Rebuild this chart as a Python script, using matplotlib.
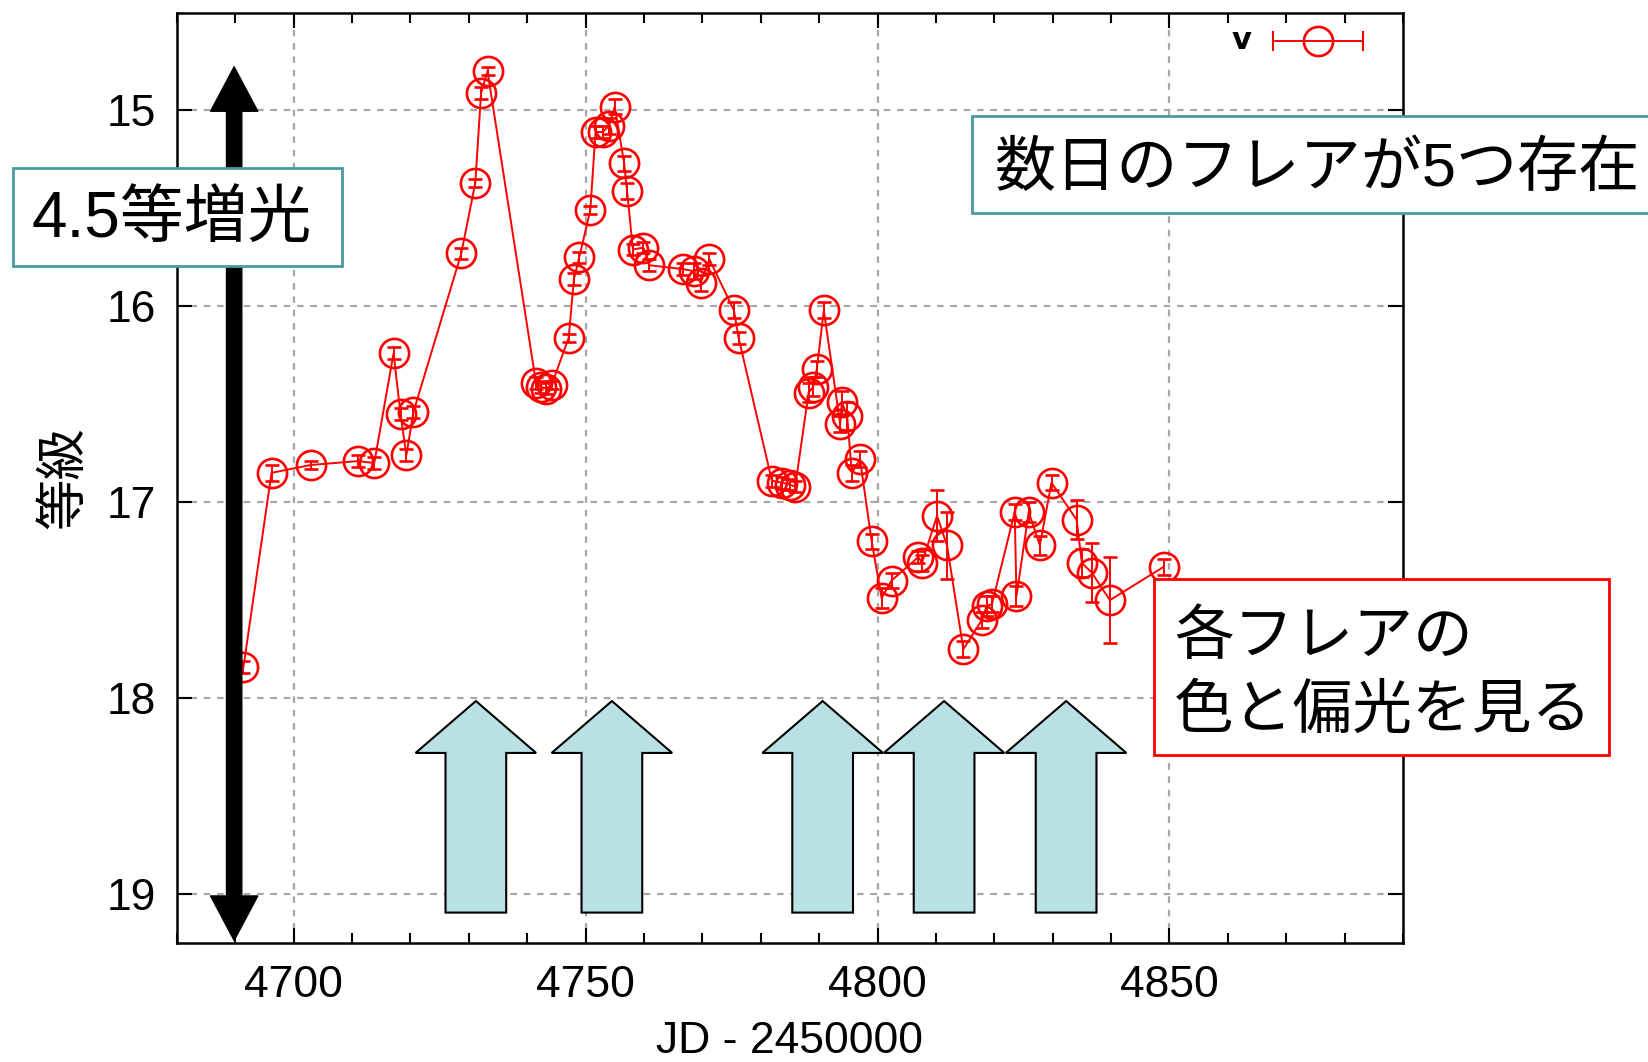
import numpy as np
import matplotlib
matplotlib.use('Agg')
import matplotlib.pyplot as plt
from matplotlib.patches import Rectangle, FancyArrow
from matplotlib.ticker import MultipleLocator

plt.rcParams['font.family'] = ['Liberation Sans', 'Noto Sans CJK JP', 'DejaVu Sans']

# V band light curve (JD - 2450000, magnitude, error)
jd = [4691.4, 4696.2, 4702.9, 4711.0, 4713.8, 4717.1, 4718.3, 4719.3, 4720.5,
      4728.7, 4731.1, 4732.1, 4733.2, 4741.5, 4742.3, 4743.2, 4744.2, 4747.1,
      4748.0, 4748.9, 4750.8, 4751.7, 4752.9, 4754.0, 4755.0, 4756.6, 4757.1,
      4758.1, 4759.9, 4760.9, 4766.7, 4768.5, 4769.7, 4771.2, 4775.4, 4776.2,
      4781.9, 4783.6, 4785.0, 4785.9, 4788.2, 4789.0, 4789.6, 4790.8, 4793.6,
      4793.9, 4794.8, 4795.6, 4797.0, 4799.0, 4800.7, 4802.4, 4807.0, 4807.6,
      4810.2, 4811.9, 4814.7, 4817.9, 4818.7, 4819.6, 4823.5, 4823.8, 4825.9,
      4827.8, 4829.8, 4834.1, 4835.0, 4836.7, 4839.8, 4849.0]
mag = [17.84, 16.85, 16.81, 16.79, 16.80, 16.24, 16.55, 16.76, 16.54,
       15.73, 15.37, 14.91, 14.80, 16.39, 16.41, 16.42, 16.40, 16.16,
       15.86, 15.75, 15.51, 15.11, 15.11, 15.08, 14.98, 15.27, 15.41,
       15.71, 15.70, 15.79, 15.81, 15.82, 15.88, 15.76, 16.02, 16.16,
       16.89, 16.90, 16.91, 16.92, 16.44, 16.41, 16.32, 16.02, 16.60,
       16.49, 16.56, 16.85, 16.78, 17.20, 17.49, 17.40, 17.28, 17.31,
       17.07, 17.22, 17.75, 17.60, 17.53, 17.52, 17.05, 17.48, 17.05,
       17.22, 16.90, 17.09, 17.31, 17.36, 17.50, 17.33]
err = [0.03, 0.04, 0.02, 0.03, 0.03, 0.03, 0.03, 0.03, 0.03,
       0.03, 0.02, 0.03, 0.02, 0.03, 0.03, 0.03, 0.02, 0.02,
       0.03, 0.03, 0.02, 0.03, 0.03, 0.04, 0.04, 0.04, 0.04,
       0.03, 0.03, 0.03, 0.03, 0.04, 0.04, 0.03, 0.04, 0.03,
       0.03, 0.03, 0.03, 0.03, 0.05, 0.05, 0.04, 0.04, 0.04,
       0.06, 0.07, 0.04, 0.04, 0.04, 0.05, 0.04, 0.03, 0.04,
       0.13, 0.17, 0.04, 0.04, 0.05, 0.04, 0.04, 0.05, 0.05,
       0.05, 0.04, 0.10, 0.07, 0.15, 0.22, 0.04]

flare_days = [4731.2, 4754.5, 4790.6, 4811.4, 4832.3]

red = '#ff0000'
teal = '#4a9a9e'

fig = plt.figure(figsize=(16.49, 10.62), dpi=100)
ax = fig.add_axes([0.1073, 0.1121, 0.7435, 0.8761])

ax.errorbar(jd, mag, yerr=err, fmt='-o', color=red, lw=1.4, ms=21,
            mfc='none', mec=red, mew=1.9, elinewidth=1.4, capsize=5,
            capthick=1.4, zorder=3)

ax.set_xlim(4680, 4890)
ax.set_ylim(19.25, 14.5)
ax.set_xticks([4700, 4750, 4800, 4850])
ax.xaxis.set_minor_locator(MultipleLocator(10))
ax.set_yticks([15, 16, 17, 18, 19])
ax.tick_params(which='both', direction='in', top=True, right=True, width=1.5)
ax.tick_params(which='major', length=11, labelsize=32)
ax.tick_params(which='minor', length=7)
ax.tick_params(axis='x', pad=16)
ax.tick_params(axis='y', pad=15)
ax.grid(True, which='major', color='#a8a8a8', lw=1.6, ls=(0, (3, 3)))
for s in ax.spines.values():
    s.set_linewidth(1.8)

ax.set_xlabel('JD - 2450000', fontsize=32, labelpad=11)
ax.set_ylabel('等級', fontsize=37)
ax.yaxis.set_label_coords(-0.0914, 0.5)
ax.yaxis.label.set_verticalalignment('center')

# flare arrows
for d in flare_days:
    ax.add_patch(FancyArrow(d, 19.095, 0, 18.015 - 19.095, width=10.4,
                            head_width=20.65, head_length=0.265,
                            length_includes_head=True, fc='#b9e0e3',
                            ec='black', lw=1.5, zorder=4))

# 4.5 mag double arrow
ax_x = 4689.8
for tip in (14.777, 19.237):
    ax.annotate('', xy=(ax_x, tip), xytext=(ax_x, 17.0),
                arrowprops=dict(arrowstyle='simple,head_length=32,head_width=34,tail_width=11',
                                color='black', shrinkA=0, shrinkB=0,
                                mutation_scale=1), zorder=5)

# legend
ax.text(0.868, 0.9695, 'v', transform=ax.transAxes, ha='center', va='center',
        fontsize=22, fontweight='bold', family='DejaVu Sans')
ax.plot([0.894, 0.9674], [0.9695, 0.9695], transform=ax.transAxes, color=red,
        lw=1.4, marker='|', ms=14, mew=1.5, clip_on=False)
ax.plot([0.931], [0.9695], transform=ax.transAxes, color=red, marker='o',
        ms=21, mfc='none', mew=1.9, clip_on=False)

# annotation boxes
fig.add_artist(Rectangle((0.00764, 0.7494), 0.1996, 0.0921, transform=fig.transFigure,
                         fc='white', ec=teal, lw=2))
fig.text(0.0191, 0.7925, '4.5等増光', fontsize=46, ha='left', va='center')

fig.add_artist(Rectangle((0.5893, 0.799), 0.42, 0.0921, transform=fig.transFigure,
                         fc='white', ec=teal, lw=2))
fig.text(0.6034, 0.8396, '数日のフレアが5つ存在', fontsize=44, ha='left', va='center')

fig.add_artist(Rectangle((0.6996, 0.2891), 0.2761, 0.1653, transform=fig.transFigure,
                         fc='white', ec=red, lw=2))
fig.text(0.7120, 0.3992, '各フレアの', fontsize=43, ha='left', va='center')
fig.text(0.7120, 0.3296, '色と偏光を見る', fontsize=43, ha='left', va='center')

fig.savefig('out.png', dpi=100)
